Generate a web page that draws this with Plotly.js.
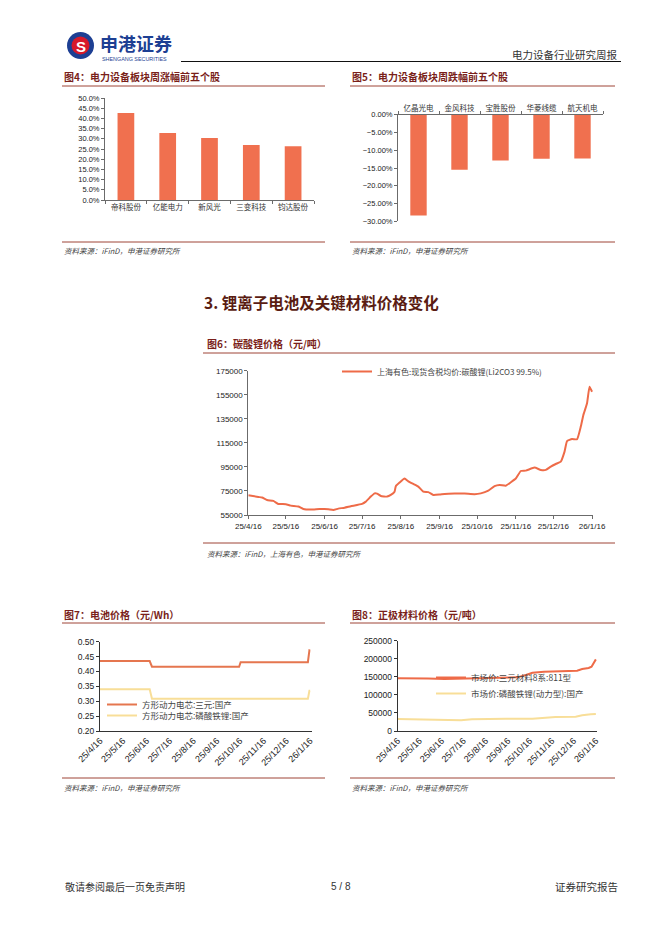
<!DOCTYPE html>
<html>
<head>
<meta charset="utf-8">
<script src="https://cdn.plot.ly/plotly-3.0.1.min.js"></script>
<style>
html,body{margin:0;padding:0;background:#fff;}
#page{width:662px;height:936px;}
</style>
</head>
<body>
<div id="page"></div>
<script>
// ---------- DATA ----------
// Fig4: top 5 weekly gainers
const upStocks = ['帝科股份','亿能电力','新风光','三变科技','钧达股份'];
const upPct = [0.426, 0.328, 0.304, 0.270, 0.263];

// Fig5: top 5 weekly losers
const downStocks = ['亿晶光电','金风科技','宝胜股份','华菱线缆','航天机电'];
const downPct = [-0.284, -0.155, -0.129, -0.124, -0.123];

// Fig6: lithium carbonate price (yuan/ton)
const liDates = ['2025-04-16','2025-04-24','2025-04-27','2025-05-01','2025-05-06','2025-05-10','2025-05-16','2025-05-20','2025-05-26','2025-05-30','2025-06-05','2025-06-12','2025-06-16','2025-06-19','2025-06-23','2025-06-27','2025-07-02','2025-07-07','2025-07-16','2025-07-19','2025-07-23','2025-07-26','2025-07-28','2025-07-31','2025-08-05','2025-08-08','2025-08-11','2025-08-12','2025-08-15','2025-08-19','2025-08-22','2025-08-26','2025-08-30','2025-09-03','2025-09-07','2025-09-11','2025-09-16','2025-09-20','2025-09-28','2025-10-06','2025-10-14','2025-10-19','2025-10-25','2025-10-30','2025-11-03','2025-11-08','2025-11-12','2025-11-16','2025-11-20','2025-11-24','2025-12-01','2025-12-06','2025-12-10','2025-12-14','2025-12-18','2025-12-22','2025-12-25','2025-12-27','2025-12-31','2026-01-04','2026-01-07','2026-01-09','2026-01-12','2026-01-14','2026-01-16'];
const liPrice = [71500,70000,69500,67500,66700,64200,64000,62800,62000,60000,59500,60000,60000,59800,59200,60300,61100,62300,64200,66100,70300,73000,72800,70800,70300,71700,74400,79000,82000,85300,83000,80800,78600,74400,74000,71700,72000,72500,72800,72800,72300,73000,75300,79000,80000,79400,82200,85300,91600,91900,94400,92500,92500,95200,97400,99400,107700,116500,118200,118000,128500,138000,148000,161700,157500];
const liName = '上海有色:现货含税均价:碳酸锂(Li2CO3 99.5%)';

// Fig7: battery cell price (yuan/Wh)
const cellDates = ['2025-04-16','2025-06-20','2025-06-23','2025-10-15','2025-10-17','2026-01-13','2026-01-15','2026-01-16'];
const cellNCM = [0.435,0.435,0.416,0.416,0.431,0.431,0.471,0.470];
const cellLFP = [0.340,0.340,0.308,0.308,0.308,0.308,0.335,0.335];
const cellNames = ['方形动力电芯:三元:国产','方形动力电芯:磷酸铁锂:国产'];

// Fig8: cathode material price (yuan/ton)
const ncmDates = ['2025-04-16','2025-05-05','2025-05-28','2025-06-20','2025-07-13','2025-08-05','2025-08-28','2025-09-20','2025-09-29','2025-10-11','2025-10-20','2025-11-05','2025-11-23','2025-12-12','2025-12-21','2025-12-28','2026-01-06','2026-01-10','2026-01-13','2026-01-16'];
const ncmPrice = [146000,146500,145500,144000,145000,145500,146000,146500,148500,155000,161400,164200,165000,166000,167000,171600,174400,178000,187300,198300];
const lfpDates = ['2025-04-16','2025-05-05','2025-05-28','2025-06-20','2025-07-13','2025-07-28','2025-08-15','2025-09-13','2025-10-20','2025-11-03','2025-11-21','2025-12-19','2025-12-28','2026-01-09','2026-01-16'];
const lfpPrice = [33200,32300,31400,29500,29500,32300,33200,34100,34100,36000,38700,39700,43400,46100,47000];
const cathodeNames = ['市场价:三元材料8系:811型','市场价:磷酸铁锂(动力型):国产'];

// Month ticks
const monthTicks = ['2025-04-16','2025-05-16','2025-06-16','2025-07-16','2025-08-16','2025-09-16','2025-10-16','2025-11-16','2025-12-16','2026-01-16'];
const monthLabels = ['25/4/16','25/5/16','25/6/16','25/7/16','25/8/16','25/9/16','25/10/16','25/11/16','25/12/16','26/1/16'];

// ---------- STYLE / GEOMETRY ----------
const W = 662, H = 936;
const X = p => p / W;
const Y = p => 1 - p / H;
const NUM = 'Liberation Sans, Arial, Noto Sans CJK SC, sans-serif';
const CJK = 'Noto Sans CJK SC, sans-serif';
const ORANGE = '#EE6B48';
const BAR = '#F0704F';
const YELLOW = '#F8DE98';
const TITLE = '#7A1F1A';
const RULE = '#9E4436';
const AXIS = '#6b6b6b';

const traces = [
  {type:'bar', x:upStocks, y:upPct, xaxis:'x', yaxis:'y', marker:{color:BAR}, width:0.4, showlegend:false, hoverinfo:'skip'},
  {type:'bar', x:downStocks, y:downPct, xaxis:'x2', yaxis:'y2', marker:{color:BAR}, width:0.4, showlegend:false, hoverinfo:'skip'},
  {type:'scatter', mode:'lines', x:liDates, y:liPrice, xaxis:'x3', yaxis:'y3', name:liName, line:{color:ORANGE, width:2, shape:'spline', smoothing:0.4}, legend:'legend', hoverinfo:'skip'},
  {type:'scatter', mode:'lines', x:cellDates, y:cellNCM, xaxis:'x4', yaxis:'y4', name:cellNames[0], line:{color:'#E5764F', width:2}, legend:'legend2', hoverinfo:'skip'},
  {type:'scatter', mode:'lines', x:cellDates, y:cellLFP, xaxis:'x4', yaxis:'y4', name:cellNames[1], line:{color:YELLOW, width:2}, legend:'legend3', hoverinfo:'skip'},
  {type:'scatter', mode:'lines', x:ncmDates, y:ncmPrice, xaxis:'x5', yaxis:'y5', name:cathodeNames[0], line:{color:ORANGE, width:2}, legend:'legend4', hoverinfo:'skip'},
  {type:'scatter', mode:'lines', x:lfpDates, y:lfpPrice, xaxis:'x5', yaxis:'y5', name:cathodeNames[1], line:{color:YELLOW, width:2}, legend:'legend5', hoverinfo:'skip'}
];

const tickFont = {family:NUM, size:8, color:'#222'};
const rotFont = {family:NUM, size:9, color:'#222'};
const catFont = {family:CJK, size:7.5, color:'#333'};

function legendAt(textX, centerY, size){
  return {x:X(textX-40), y:Y(centerY-14), xanchor:'left', yanchor:'top', bgcolor:'rgba(0,0,0,0)', borderwidth:0,
          font:{family:CJK, size:size, color:'#444'}, itemwidth:30, tracegroupgap:0};
}

const layout = {
  width:W, height:H, margin:{l:0,r:0,t:0,b:0},
  paper_bgcolor:'#fff', plot_bgcolor:'rgba(0,0,0,0)',
  showlegend:true,
  // Fig4
  xaxis:{domain:[X(105),X(314)], anchor:'y', type:'category', range:[-0.5,4.5], showline:true, linecolor:AXIS, linewidth:1,
         ticks:'outside', ticklen:3, tickcolor:AXIS, tickson:'boundaries', tickfont:catFont, showgrid:false, zeroline:false, fixedrange:true},
  yaxis:{domain:[Y(200),Y(98)], anchor:'x', range:[0,0.5], dtick:0.05, tickformat:'.1%', showline:true, linecolor:AXIS, linewidth:1,
         ticks:'outside', ticklen:3, tickcolor:AXIS, tickfont:{family:NUM,size:7.5,color:'#222'}, showgrid:false, zeroline:false},
  // Fig5
  xaxis2:{domain:[X(398),X(603)], anchor:'y2', side:'top', type:'category', range:[-0.5,4.5], showline:true, linecolor:AXIS, linewidth:1,
         ticks:'outside', ticklen:3, tickcolor:AXIS, tickson:'boundaries', tickfont:catFont, showgrid:false, zeroline:false},
  yaxis2:{domain:[Y(221.3),Y(114.7)], anchor:'x2', range:[-0.30,0], dtick:0.05, tickformat:'.2%', showline:true, linecolor:AXIS, linewidth:1,
         ticks:'outside', ticklen:3, tickcolor:AXIS, tickfont:{family:NUM,size:7.5,color:'#222'}, showgrid:false, zeroline:false},
  // Fig6
  xaxis3:{domain:[X(248.3),X(593.3)], anchor:'y3', type:'date', range:['2025-04-16','2026-01-17'], tickvals:monthTicks, ticktext:monthLabels,
         showline:true, linecolor:AXIS, linewidth:1, ticks:'outside', ticklen:3, tickcolor:AXIS, tickfont:tickFont, showgrid:false, zeroline:false},
  yaxis3:{domain:[Y(515),Y(370.7)], anchor:'x3', range:[55000,175000], dtick:20000, tick0:55000, tickformat:'d', showline:true, linecolor:AXIS, linewidth:1,
         ticks:'outside', ticklen:3, tickcolor:AXIS, tickfont:tickFont, showgrid:false, zeroline:false},
  // Fig7
  xaxis4:{domain:[X(100),X(311.7)], anchor:'y4', type:'date', range:['2025-04-16','2026-01-18'], tickvals:monthTicks, ticktext:monthLabels, tickangle:-45,
         showline:true, linecolor:'#333', linewidth:1, ticks:'', tickfont:rotFont, showgrid:false, zeroline:false},
  yaxis4:{domain:[Y(731),Y(641.7)], anchor:'x4', range:[0.2,0.5], dtick:0.05, tickformat:'.2f', showline:true, linecolor:'#333', linewidth:1,
         ticks:'outside', ticklen:3, tickcolor:'#333', tickfont:{family:NUM,size:8.5,color:'#222'}, showgrid:false, zeroline:false},
  // Fig8
  xaxis5:{domain:[X(397.7),X(597.3)], anchor:'y5', type:'date', range:['2025-04-16','2026-01-18'], tickvals:monthTicks, ticktext:monthLabels, tickangle:-45,
         showline:true, linecolor:'#333', linewidth:1, ticks:'', tickfont:rotFont, showgrid:false, zeroline:false},
  yaxis5:{domain:[Y(731),Y(640.7)], anchor:'x5', range:[0,250000], dtick:50000, tickformat:'d', showline:true, linecolor:'#333', linewidth:1,
         ticks:'outside', ticklen:3, tickcolor:'#333', tickfont:{family:NUM,size:8.5,color:'#222'}, showgrid:false, zeroline:false},
  legend: legendAt(377, 371, 8),
  legend2: legendAt(142, 704, 8.5),
  legend3: legendAt(142, 715, 8.5),
  legend4: legendAt(471, 677, 8.5),
  legend5: legendAt(471, 693, 8.5),
  shapes:[],
  annotations:[]
};

function hline(x0,x1,y,color,w){
  layout.shapes.push({type:'line', xref:'paper', yref:'paper', x0:X(x0), x1:X(x1), y0:Y(y), y1:Y(y), line:{color:color, width:w}});
}
function text(t, x, y, size, color, xanchor, family){
  layout.annotations.push({text:t, xref:'paper', yref:'paper', x:X(x), y:Y(y), xanchor:xanchor||'left', yanchor:'middle',
    showarrow:false, font:{family:family||CJK, size:size, color:color}});
}

// Header: logo
layout.shapes.push({type:'circle', xref:'paper', yref:'paper', x0:X(67), x1:X(94), y0:Y(59), y1:Y(32), fillcolor:'#1D3F93', line:{width:0}});
layout.shapes.push({type:'circle', xref:'paper', yref:'paper', x0:X(71.5), x1:X(89.5), y0:Y(54.5), y1:Y(36.5), fillcolor:'#D7192A', line:{width:0}});
text('<b>S</b>', 80.5, 46, 15, '#ffffff', 'center', NUM);
text('<b>申港证券</b>', 98, 43, 18, '#1D3F93', 'left', CJK);
text('SHENGANG SECURITIES', 100, 59, 5.4, '#1D3F93', 'left', NUM);
hline(181, 621, 61.5, '#111', 1);
text('电力设备行业研究周报', 620, 54, 10.5, '#333', 'right', CJK);

// Fig4 / Fig5 frames
text('<b>图4：电力设备板块周涨幅前五个股</b>', 62, 76, 10, TITLE);
hline(62, 325, 86, RULE, 1);
hline(62, 325, 242, RULE, 1);
text('<i>资料来源：iFinD，申港证券研究所</i>', 62, 251, 7.5, '#444');

text('<b>图5：电力设备板块周跌幅前五个股</b>', 350, 76, 10, TITLE);
hline(350, 615, 86, RULE, 1);
hline(350, 615, 242, RULE, 1);
text('<i>资料来源：iFinD，申港证券研究所</i>', 350, 251, 7.5, '#444');

// Section heading
text('<b>3. 锂离子电池及关键材料价格变化</b>', 202, 302, 15.5, '#5A1C12');

// Fig6
text('<b>图6：碳酸锂价格（元/吨）</b>', 205, 343, 10, TITLE);
hline(203, 615, 353, RULE, 1);
hline(203, 615, 543, RULE, 1);
text('<i>资料来源：iFinD，上海有色，申港证券研究所</i>', 205, 553, 7.5, '#444');

// Fig7
text('<b>图7：电池价格（元/Wh）</b>', 62, 614, 10, TITLE);
hline(62, 325, 623, RULE, 1);
hline(62, 325, 778, RULE, 1);
text('<i>资料来源：iFinD，申港证券研究所</i>', 62, 787, 7.5, '#444');

// Fig8
text('<b>图8：正极材料价格（元/吨）</b>', 350, 614, 10, TITLE);
hline(350, 615, 623, RULE, 1);
hline(350, 615, 778, RULE, 1);
text('<i>资料来源：iFinD，申港证券研究所</i>', 350, 787, 7.5, '#444');

// Footer
text('敬请参阅最后一页免责声明', 63, 886, 10, '#333');
text('5 / 8', 341, 886, 10, '#333', 'center', NUM);
text('证券研究报告', 620, 886, 10.5, '#333', 'right');

Plotly.newPlot('page', traces, layout, {staticPlot:true, displayModeBar:false});
</script>
</body>
</html>
